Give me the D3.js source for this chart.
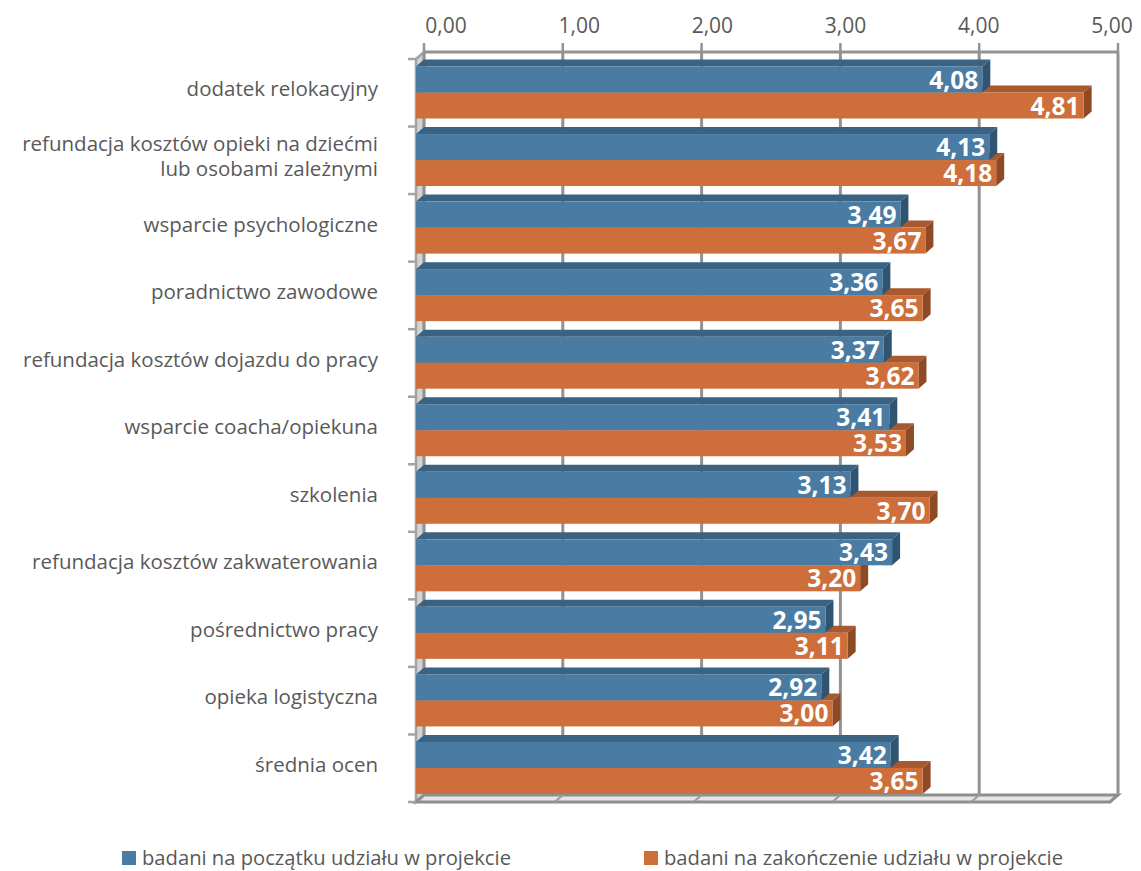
<!DOCTYPE html>
<html><head><meta charset="utf-8">
<script src="https://cdn.jsdelivr.net/npm/d3@7"></script>
<style>body{margin:0;background:#fff}svg{display:block}</style>
</head><body>
<svg id="c" width="1141" height="871"></svg>
<script>
const categories = ["dodatek relokacyjny","refundacja kosztów opieki na dziećmi|lub osobami zależnymi","wsparcie psychologiczne","poradnictwo zawodowe","refundacja kosztów dojazdu do pracy","wsparcie coacha/opiekuna","szkolenia","refundacja kosztów zakwaterowania","pośrednictwo pracy","opieka logistyczna","średnia ocen"];
const seriesNames = ["badani na początku udziału w projekcie","badani na zakończenie udziału w projekcie"];
const startVals = [4.08,4.13,3.49,3.36,3.37,3.41,3.13,3.43,2.95,2.92,3.42];
const endVals   = [4.81,4.18,3.67,3.65,3.62,3.53,3.70,3.20,3.11,3.00,3.65];
const tickVals = [0,1,2,3,4,5];

const svg = d3.select("#c");
const DX = 8, DY = 7;
const x = d3.scaleLinear().domain([0,5]).range([424,1118]);     // back plane
const xl = d3.scaleLinear().domain([0,5]).range([446,1112]);    // tick label placement
const y = d3.scaleBand().domain(categories).range([59,802]).paddingInner(0).paddingOuter(0); // front plane
const fmt = v => d3.format(".2f")(v).replace(".", ",");
const grid = "#929292";
const txt = "#595959";
const colors = [
  {front:"#4a7ca3", top:"#3a6383", side:"#2f5572"},
  {front:"#cd6e3b", top:"#a9592e", side:"#8d4a25"}
];
const x0f = x(0) - DX, yTopBack = y.range()[0] - DY, yBotBack = y.range()[1] - DY;

// left wall
svg.append("path")
  .attr("d", `M${x0f},${y.range()[0]} L${x(0)},${yTopBack} L${x(0)},${yBotBack} L${x0f},${y.range()[1]} Z`)
  .attr("fill","#d3d3d3").attr("stroke","#a3a3a3").attr("stroke-width",2.5);
// floor
svg.append("path")
  .attr("d", `M${x0f},${y.range()[1]} L${x(0)},${yBotBack} L${x(5)},${yBotBack} L${x(5)-DX},${y.range()[1]} Z`)
  .attr("fill","#e6e6e6").attr("stroke","#8e8e8e").attr("stroke-width",3);

// gridlines (back wall)
svg.append("g").selectAll("line").data(tickVals).join("line")
  .attr("x1", d=>x(d)).attr("x2", d=>x(d))
  .attr("y1", yTopBack).attr("y2", yBotBack)
  .attr("stroke", grid).attr("stroke-width", 3);
svg.append("g").selectAll("line").data(tickVals.slice(1,5)).join("line")
  .attr("x1", d=>x(d)).attr("x2", d=>x(d)-DX)
  .attr("y1", yBotBack).attr("y2", y.range()[1])
  .attr("stroke", "#9a9a9a").attr("stroke-width", 2);

// top axis line + ticks
svg.append("line").attr("x1", x(0)).attr("x2", x(5)).attr("y1", yTopBack).attr("y2", yTopBack)
  .attr("stroke", grid).attr("stroke-width", 3);
svg.append("g").selectAll("line").data(tickVals).join("line")
  .attr("x1", d=>x(d)).attr("x2", d=>x(d)).attr("y1", yTopBack-9).attr("y2", yTopBack)
  .attr("stroke", grid).attr("stroke-width", 2.5);
svg.append("g").selectAll("text").data(tickVals).join("text")
  .attr("x", d=>xl(d)).attr("y", 33).attr("text-anchor","middle")
  .attr("font-family","Open Sans").attr("font-size",21).attr("fill",txt)
  .text(d=>fmt(d));

// left axis ticks
const bounds = categories.map(c=>y(c)).concat([y.range()[1]]);
svg.append("g").selectAll("line").data(bounds).join("line")
  .attr("x1", x0f-8).attr("x2", x0f).attr("y1", d=>d).attr("y2", d=>d)
  .attr("stroke", "#a3a3a3").attr("stroke-width", 2.5);

// bars
const bw = y.bandwidth();
const off = 7.5, bh = 26;
function drawBar(g, v, yt, col) {
  const xf = x(v) - DX, xs = x0f;
  const yb = yt + bh;
  g.append("path").attr("d", `M${xs},${yt} L${xs+DX},${yt-DY} L${xf+DX},${yt-DY} L${xf},${yt} Z`).attr("fill", col.top);
  g.append("path").attr("d", `M${xf},${yt} L${xf+DX},${yt-DY} L${xf+DX},${yb-DY} L${xf},${yb} Z`).attr("fill", col.side);
  g.append("rect").attr("x", xs).attr("y", yt).attr("width", xf-xs).attr("height", bh).attr("fill", col.front);
}
const gb = svg.append("g");
categories.forEach((c,i)=>{
  const yt = y(c) + off;
  drawBar(gb, endVals[i], yt + bh, colors[1]);
  drawBar(gb, startVals[i], yt, colors[0]);
});
// value labels
const gl = svg.append("g").attr("font-family","Open Sans").attr("font-weight","bold").attr("font-size",24.5).attr("fill","#fff").attr("text-anchor","end");
categories.forEach((c,i)=>{
  const yt = y(c) + off;
  gl.append("text").attr("x", x(startVals[i]) - DX - 4).attr("y", yt + bh/2 + 9).text(fmt(startVals[i]));
  gl.append("text").attr("x", x(endVals[i]) - DX - 4).attr("y", yt + bh*1.5 + 9).text(fmt(endVals[i]));
});

// category labels
const gc = svg.append("g").attr("font-family","Open Sans").attr("font-size",20.5).attr("fill",txt).attr("text-anchor","end");
categories.forEach(c=>{
  const lines = c.split("|");
  const cy = y(c) + bw/2 - 3.5;
  const lh = 25;
  lines.forEach((ln,j)=>{
    gc.append("text").attr("x", 378).attr("y", cy + (j - (lines.length-1)/2)*lh).attr("dy","0.35em").text(ln);
  });
});

// legend
const lg = svg.append("g").attr("font-family","Open Sans").attr("font-size",20.2).attr("fill",txt);
const legX = [122, 644];
seriesNames.forEach((s,i)=>{
  lg.append("rect").attr("x", legX[i]).attr("y", 851).attr("width",14).attr("height",14).attr("fill", colors[i].front);
  lg.append("text").attr("x", legX[i]+20).attr("y", 865).text(s);
});
</script>
</body></html>
